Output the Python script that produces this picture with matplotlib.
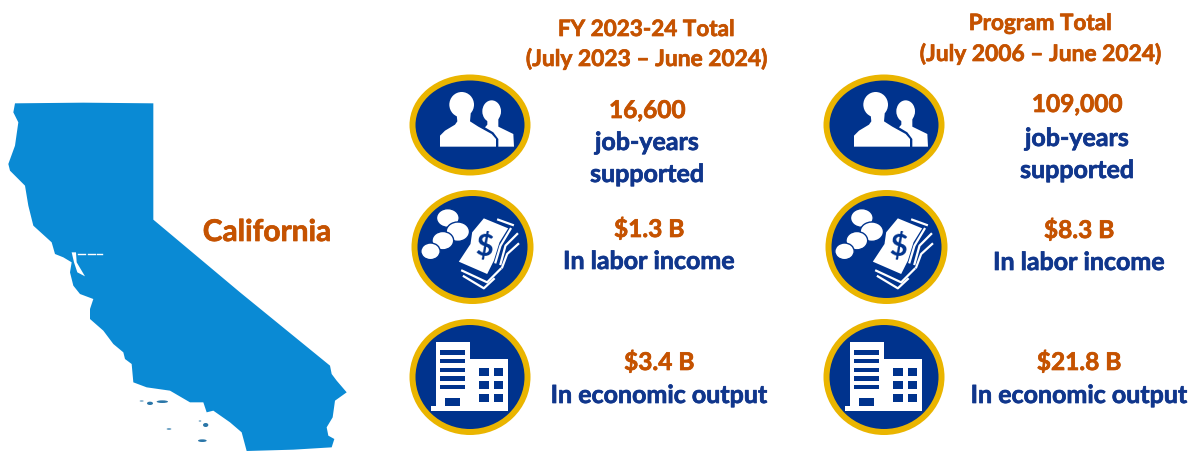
from matplotlib import pyplot as plt
from matplotlib.patches import Ellipse, Polygon, Rectangle
from matplotlib import patheffects

orange = '#C55200'
navy = '#10368C'
circleBlue = '#00338D'
gold = '#EAB500'
mapBlue = '#0A8AD4'
fontName = 'Lato'

# headers and stats, left column then right column
headers = [['FY 2023-24 Total', '(July 2023 \u2013 June 2024)'],
           ['Program Total', '(July 2006 \u2013 June 2024)']]
jobValues = ['16,600', '109,000']
incomeValues = ['$1.3 B', '$8.3 B']
outputValues = ['$3.4 B', '$21.8 B']

# state outline (crop pixels, 3x, origin at 0,90)
stateOutline = [(45, 43), (250, 41), (460, 43), (460, 392), (720, 610), (990, 830), (995, 855),
                (1010, 875), (1040, 910), (1005, 935), (998, 985), (980, 1015), (985, 1040),
                (1003, 1050), (995, 1075), (880, 1082), (740, 1086), (725, 1030), (690, 1000),
                (640, 965), (620, 970), (610, 940), (570, 940), (510, 905), (440, 895),
                (400, 880), (395, 825), (375, 810), (370, 790), (340, 765), (310, 725),
                (270, 690), (270, 660), (280, 630), (240, 615), (220, 590), (210, 550),
                (215, 520), (190, 505), (165, 495), (155, 460), (100, 410), (85, 350),
                (75, 290), (30, 245), (25, 225), (45, 170), (55, 100), (40, 70)]
bayOutline = [(215, 490), (228, 490), (230, 520), (255, 562), (232, 550), (222, 520)]
bayDashes = [(235, 495), (255, 495), (265, 495), (285, 495), (290, 495), (305, 495)]
islands = [(450, 943, 18, 10), (487, 938, 34, 8), (425, 936, 12, 3), (507, 1020, 14, 4),
           (617, 1008, 16, 12), (607, 1055, 26, 8), (600, 996, 8, 3)]

# icon shapes, crop pixels again
bigPerson = [(80, 60), (110, 60), (122, 90), (120, 112), (145, 128), (185, 150),
             (198, 165), (198, 188), (30, 188), (30, 155), (45, 140), (75, 122), (82, 112), (80, 92)]
bigHead = (95, 62, 74, 76)
smallPerson = [(172, 80), (205, 80), (205, 128), (250, 150), (252, 188),
               (205, 188), (205, 165), (190, 145), (165, 130), (172, 122)]
smallHead = (185, 82, 56, 66)
coins = [(67, 57, 68, 56), (97, 98, 70, 58), (52, 125, 65, 55), (15, 157, 58, 50)]
bill = [(175, 58), (248, 88), (222, 130), (205, 185), (185, 225), (100, 188), (135, 135), (140, 100)]
billEdges = [[(218, 62), (262, 78)],
             [(255, 90), (225, 140), (210, 190)],
             [(275, 105), (240, 140), (225, 195)],
             [(278, 135), (245, 165), (230, 205)],
             [(110, 215), (185, 250), (225, 210)],
             [(115, 232), (175, 268), (205, 240)]]

fig = plt.figure(figsize=(11.92, 4.52), dpi=100)
ax = fig.add_axes([0, 0, 1, 1])
ax.set_xlim(0, 1192)
ax.set_ylim(452, 0)
ax.axis('off')


def fromCrop(points, originX, originY):
    return [(originX + x / 3, originY + y / 3) for x, y in points]


def drawState():
    ax.add_patch(Polygon(fromCrop(stateOutline, 0, 90), closed=True, color=mapBlue, lw=0))
    ax.add_patch(Polygon(fromCrop(bayOutline, 0, 90), closed=True, color='white', lw=0))
    for i in range(0, len(bayDashes), 2):
        line = fromCrop(bayDashes[i:i + 2], 0, 90)
        ax.plot([line[0][0], line[1][0]], [line[0][1], line[1][1]], color='white', lw=1)
    for x, y, w, h in islands:
        ax.add_patch(Ellipse((x / 3, 90 + y / 3), w / 3, h / 3, color='#2A76A8', lw=0))


def drawBadge(cx, cy, rx, ry):
    ax.add_patch(Ellipse((cx, cy), 2 * rx, 2 * ry, color=gold, lw=0))
    ax.add_patch(Ellipse((cx, cy), 2 * rx - 12, 2 * ry - 12, color=circleBlue, lw=0))


def drawPeople(cx, cy):
    ox, oy = cx - 40, cy - 41
    ax.add_patch(Polygon(fromCrop(smallPerson, ox, oy), closed=True, color='white', lw=0))
    ax.add_patch(Ellipse((ox + smallHead[0] / 3, oy + smallHead[1] / 3), smallHead[2] / 3, smallHead[3] / 3,
                         color='white', lw=0))
    ax.add_patch(Polygon(fromCrop(bigPerson, ox, oy), closed=True, color='white', lw=0))
    ax.add_patch(Ellipse((ox + bigHead[0] / 3, oy + bigHead[1] / 3), bigHead[2] / 3, bigHead[3] / 3,
                         color='white', lw=0))


def drawMoney(cx, cy):
    ox, oy = cx - 47, cy - 48
    for x, y, w, h in coins:
        ax.add_patch(Ellipse((ox + x / 3, oy + y / 3), w / 3, h / 3, fc='white', ec=circleBlue, lw=1))
    for edge in billEdges:
        line = fromCrop(edge, ox, oy)
        ax.plot([p[0] for p in line], [p[1] for p in line], color='white', lw=1.6, solid_joinstyle='round')
    ax.add_patch(Polygon(fromCrop(bill, ox, oy), closed=True, color='white', lw=0))
    ax.text(ox + 175 / 3, oy + 140 / 3, '$', color=circleBlue, fontsize=22, fontweight='bold',
            family=fontName, ha='center', va='center', rotation=-5)


def drawBuilding(cx, cy):
    ox, oy = cx - 70, cy - 68
    ax.add_patch(Rectangle((ox + 92 / 3, oy + 292 / 3), 232 / 3, 14 / 3, color='white', lw=0))
    ax.add_patch(Rectangle((ox + 107 / 3, oy + 98 / 3), 102 / 3, 200 / 3, color='white', lw=0))
    ax.add_patch(Rectangle((ox + 205 / 3, oy + 150 / 3), 119 / 3, 150 / 3, color='white', lw=0))
    for y in [124, 150, 176, 202, 228]:
        ax.add_patch(Rectangle((ox + 121 / 3, oy + y / 3), 73 / 3, 13 / 3, color=circleBlue, lw=0))
    ax.add_patch(Rectangle((ox + 136 / 3, oy + 267 / 3), 43 / 3, 25 / 3, color=circleBlue, lw=0))
    for y in [176, 215, 254]:
        for x in [237, 281]:
            ax.add_patch(Rectangle((ox + x / 3, oy + y / 3), 29 / 3, 26 / 3, color=circleBlue, lw=0))


def label(x, y, text, color, size=18):
    t = ax.text(x, y, text, color=color, fontsize=size, fontweight='bold', family=fontName,
                ha='center', va='baseline')
    # Lato bold comes out a bit thin next to the reference
    t.set_path_effects([patheffects.withStroke(linewidth=0.5, foreground=color)])


drawState()
label(267, 242, 'California', orange, 21.5)

# header x, job x, income x, output x and the baselines of each column
columnX = [[646, 647, 649, 659], [1040, 1077, 1079, 1079]]
headerY = [[37, 67], [31, 62]]
jobY = [[119, 151, 183], [113, 147, 179]]
incomeY = [[238, 270], [239, 271]]
outputY = [[371, 404], [371, 404]]
badgeX = [470, 884]

for col in range(2):
    headerPos, jobPos, incomePos, outputPos = columnX[col]
    label(headerPos, headerY[col][0], headers[col][0], orange, 16.2)
    label(headerPos, headerY[col][1], headers[col][1], orange, 16.4)

    drawBadge(badgeX[col], 126, 60.5, 50.5)
    drawPeople(badgeX[col], 126)
    drawBadge(badgeX[col] + 2.5, 248, 61, 57)
    drawMoney(badgeX[col] + 2.5, 248)
    drawBadge(badgeX[col], 378, 60.5, 58)
    drawBuilding(badgeX[col], 378)

    label(jobPos, jobY[col][0], jobValues[col], orange, 17.6)
    label(jobPos, jobY[col][1], 'job-years', navy)
    label(jobPos, jobY[col][2], 'supported', navy)
    label(incomePos, incomeY[col][0], incomeValues[col], orange, 17.6)
    label(incomePos, incomeY[col][1], 'In labor income', navy)
    label(outputPos, outputY[col][0], outputValues[col], orange, 17.6)
    label(outputPos, outputY[col][1], 'In economic output', navy)

plt.savefig('out.png', dpi=100)
